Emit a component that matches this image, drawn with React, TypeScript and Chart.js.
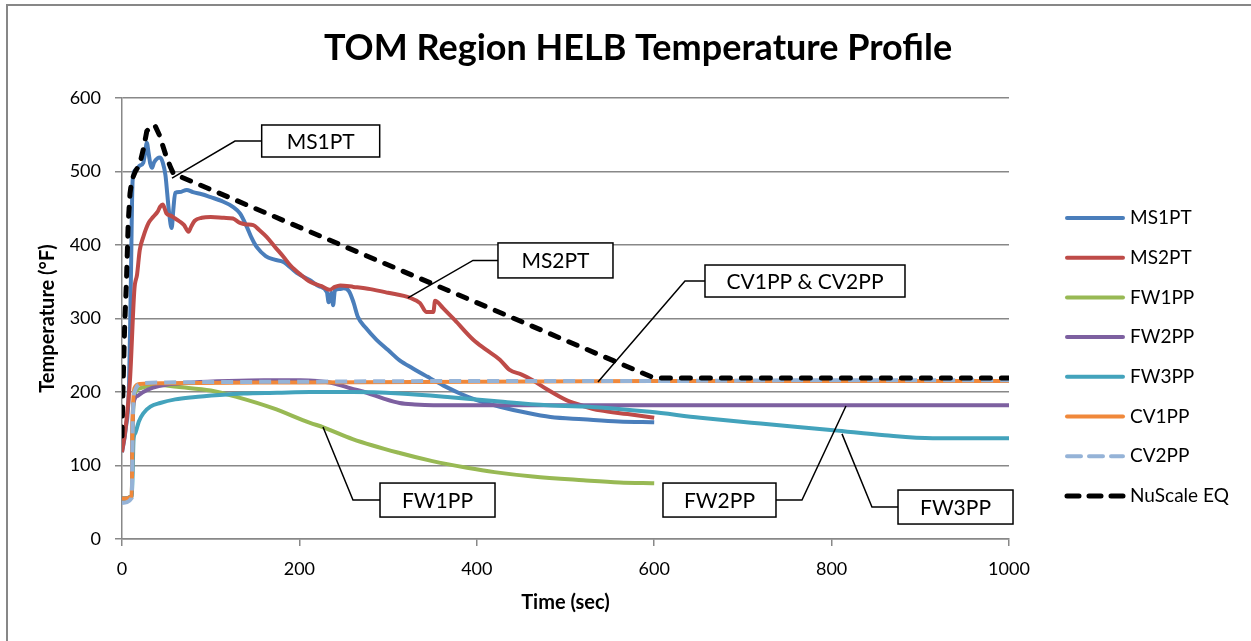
import { useEffect, useRef } from "react";
import { Chart, registerables } from "chart.js";

Chart.register(...registerables);

const FONT = "Lato, 'Open Sans', sans-serif";

// Time (sec) / temperature (°F) samples for each monitored point
const ms1ptTime = [0, 4, 8, 10, 12, 16, 20, 24, 26, 28, 30, 32, 34, 36, 40, 43, 46, 49, 51, 53, 56, 58, 60, 65, 73, 80, 90, 100, 112, 125, 133, 141, 146, 152, 162, 172, 182, 197, 212, 222, 231, 233, 236, 238, 240, 245, 250, 256, 261, 266, 275, 287, 300, 313, 328, 344, 362, 381, 400, 426, 455, 483, 520, 560, 600];
const ms1ptTemp = [118, 148, 212, 352, 488, 503, 508, 512, 525, 539, 525, 510, 505, 512, 518, 519, 512, 495, 470, 445, 423, 450, 471, 472, 475, 472, 469, 465, 460, 452, 443, 424, 410, 397, 385, 380, 377, 362, 352, 344, 336, 322, 335, 318, 338, 340, 341, 337, 322, 302, 287, 271, 257, 243, 232, 221, 209, 198, 189, 180, 172, 166, 163, 160, 159];

const ms2ptTime = [0, 4, 9, 14, 17, 20, 24, 30, 35, 40, 43, 46, 48, 50, 55, 60, 65, 70, 75, 78, 82, 90, 100, 115, 125, 133, 140, 148, 155, 163, 172, 182, 190, 201, 212, 225, 234, 240, 246, 261, 280, 300, 325, 336, 343, 351, 353, 356, 362, 375, 396, 410, 426, 437, 450, 463, 480, 501, 520, 539, 570, 600];
const ms2ptTemp = [118, 150, 216, 340, 360, 393, 411, 430, 438, 445, 452, 455, 450, 443, 440, 436, 432, 427, 418, 425, 433, 437, 438, 437, 436, 430, 428, 427, 420, 411, 398, 384, 372, 360, 350, 344, 339, 343, 345, 343, 340, 335, 328, 321, 309, 309, 324, 322, 314, 298, 271, 258, 244, 230, 224, 216, 203, 189, 181, 175, 170, 165];

const fw1ppTime = [0, 11, 12, 14, 20, 40, 62, 100, 130, 170, 212, 227, 260, 313, 350, 389, 420, 463, 520, 561, 600];
const fw1ppTemp = [55, 58, 150, 195, 205, 210, 207, 202, 193, 178, 158, 152, 136, 117, 106, 97, 91, 85, 80, 77, 76];

const fw2ppTime = [0, 11, 12, 13, 18, 24, 35, 50, 80, 120, 160, 201, 220, 238, 258, 276, 295, 313, 330, 351, 400, 600, 1000];
const fw2ppTemp = [55, 58, 160, 185, 195, 200, 206, 210, 213, 215, 216, 216, 215, 212, 205, 199, 191, 185, 183, 182, 182, 182, 182];

const fw3ppTime = [0, 11, 12, 13, 15, 19, 24, 32, 43, 60, 80, 110, 137, 175, 212, 260, 313, 370, 426, 480, 539, 595, 652, 720, 802, 860, 914, 1000];
const fw3ppTemp = [55, 58, 90, 135, 144, 160, 171, 180, 185, 190, 193, 196, 198, 199, 200, 200, 198, 193, 187, 182, 179, 173, 165, 157, 148, 141, 137, 137];

const cv1ppTime = [0, 11, 12, 14, 20, 50, 200, 400, 600, 800, 1000];
const cv1ppTemp = [55, 58, 160, 205, 211, 212, 213, 214, 215, 215, 215];

const cv2ppTime = [0, 11, 12, 14, 24, 50, 200, 400, 600, 800, 1000];
const cv2ppTemp = [49, 56, 150, 200, 212, 213, 214, 215, 215, 216, 216];

const nuscaleTime = [0, 1, 3, 5, 7, 9, 11, 15, 20, 24, 28, 33, 37, 42, 50, 55, 58, 600, 1000];
const nuscaleTemp = [140, 200, 290, 350, 430, 470, 488, 500, 510, 530, 555, 562, 563, 550, 520, 505, 497, 219, 219];

const seriesNames = ["MS1PT", "MS2PT", "FW1PP", "FW2PP", "FW3PP", "CV1PP", "CV2PP", "NuScale EQ"];
const seriesTimes = [ms1ptTime, ms2ptTime, fw1ppTime, fw2ppTime, fw3ppTime, cv1ppTime, cv2ppTime, nuscaleTime];
const seriesTemps = [ms1ptTemp, ms2ptTemp, fw1ppTemp, fw2ppTemp, fw3ppTemp, cv1ppTemp, cv2ppTemp, nuscaleTemp];

const seriesColors = ["#4A7EBB", "#BE4B48", "#98B954", "#7D60A0", "#43A3BC", "#F0883A", "#95B3D7", "#000000"];
const seriesDashes: number[][] = [[], [], [], [], [], [], [12, 7], [9, 11]];
const seriesWidths = [4, 4, 4, 4, 4, 4, 4, 5];

const xTicks = [0, 200, 400, 600, 800, 1000];

// Callout labels: box centre, elbow and target in data units (sec, °F)
const callouts = [
  { text: "MS1PT", at: [224, 541.5], w: 118, h: 32, elbow: 127.4, target: [56.4, 491] },
  { text: "MS2PT", at: [488.7, 379], w: 115, h: 35, elbow: 395.7, target: [322.4, 328] },
  { text: "CV1PP & CV2PP", at: [770, 351], w: 200, h: 32, elbow: 634.7, target: [536.6, 213.6] },
  { text: "FW1PP", at: [355.7, 53], w: 115, h: 34, elbow: 260.4, target: [226.6, 152.4] },
  { text: "FW2PP", at: [673.6, 53], w: 113, h: 34, elbow: 766.6, target: [816.2, 181] },
  { text: "FW3PP", at: [939.7, 43.5], w: 115, h: 34, elbow: 845.5, target: [811.7, 143] },
];

const framePlugin = {
  id: "frame",
  beforeDraw(chart: any) {
    const { ctx, width, height } = chart;
    ctx.save();
    ctx.fillStyle = "#ffffff";
    ctx.fillRect(0, 0, width, height);
    ctx.fillStyle = "#878787";
    ctx.fillRect(6, 4, width - 6, 2);
    ctx.fillRect(6, 4, 2, height - 4);
    ctx.fillStyle = "#000";
    ctx.font = `bold 36px ${FONT}`;
    ctx.textAlign = "center";
    ctx.textBaseline = "middle";
    ctx.fillText("TOM Region HELB Temperature Profile", 638, 48);
    ctx.restore();
  },
};

const calloutPlugin = {
  id: "callouts",
  afterDatasetsDraw(chart: any) {
    const { ctx } = chart;
    const xs = chart.scales.x;
    const ys = chart.scales.y;
    ctx.save();
    ctx.strokeStyle = "#000";
    ctx.lineWidth = 1.5;
    for (const c of callouts) {
      const cx = xs.getPixelForValue(c.at[0]);
      const cy = ys.getPixelForValue(c.at[1]);
      const ex = xs.getPixelForValue(c.elbow);
      const tx = xs.getPixelForValue(c.target[0]);
      const ty = ys.getPixelForValue(c.target[1]);
      const sideX = ex < cx ? cx - c.w / 2 : cx + c.w / 2;
      ctx.beginPath();
      ctx.moveTo(sideX, cy);
      ctx.lineTo(ex, cy);
      ctx.lineTo(tx, ty);
      ctx.stroke();
      ctx.fillStyle = "#fff";
      ctx.fillRect(cx - c.w / 2, cy - c.h / 2, c.w, c.h);
      ctx.strokeRect(cx - c.w / 2, cy - c.h / 2, c.w, c.h);
      ctx.fillStyle = "#000";
      ctx.font = `21px ${FONT}`;
      ctx.textAlign = "center";
      ctx.textBaseline = "middle";
      ctx.fillText(c.text, cx, cy + 1);
    }
    ctx.restore();
  },
};

const legendPlugin = {
  id: "sideLegend",
  afterDraw(chart: any) {
    const { ctx } = chart;
    const x0 = 1065;
    const len = 60;
    ctx.save();
    chart.data.datasets.forEach((ds: any, i: number) => {
      const y = 218 + i * 39.7;
      ctx.strokeStyle = ds.borderColor;
      ctx.lineWidth = ds.borderWidth;
      ctx.lineCap = "round";
      ctx.setLineDash(ds.borderDash && ds.borderDash.length ? (i === 7 ? [12, 10] : [14, 8]) : []);
      ctx.beginPath();
      ctx.moveTo(x0 + 2, y);
      ctx.lineTo(x0 + len - 2, y);
      ctx.stroke();
      ctx.setLineDash([]);
      ctx.fillStyle = "#000";
      ctx.font = `19px ${FONT}`;
      ctx.textAlign = "left";
      ctx.textBaseline = "middle";
      ctx.fillText(ds.label, x0 + len + 5, y);
    });
    ctx.restore();
  },
};

export default function App() {
  const canvasRef = useRef<HTMLCanvasElement | null>(null);

  useEffect(() => {
    if (!canvasRef.current) return;
    const n = seriesNames.length;
    const datasets = seriesNames.map((name, i) => ({
      label: name,
      data: seriesTimes[i].map((t, k) => ({ x: t, y: seriesTemps[i][k] })),
      borderColor: seriesColors[i],
      backgroundColor: seriesColors[i],
      borderWidth: seriesWidths[i],
      borderDash: seriesDashes[i],
      borderCapStyle: i === 7 ? "round" : "butt",
      borderJoinStyle: "round",
      pointRadius: 0,
      fill: false,
      cubicInterpolationMode: i === 7 ? "default" : "monotone",
      tension: i === 7 ? 0 : 0.4,
      order: n - i,
    }));

    const chart = new Chart(canvasRef.current, {
      type: "line",
      data: { datasets } as any,
      options: {
        animation: false,
        responsive: false,
        layout: { padding: { left: 0, right: 242, top: 98, bottom: 0 } },
        plugins: {
          legend: { display: false },
          title: { display: false },
          tooltip: { enabled: false },
        },
        scales: {
          x: {
            type: "linear",
            min: 0,
            max: 1000,
            afterBuildTicks: (s: any) => {
              s.ticks = xTicks.map((v) => ({ value: v }));
            },
            afterFit: (s: any) => {
              s.height = 102;
            },
            grid: { drawOnChartArea: false, drawTicks: true, tickLength: 7, color: "#888", lineWidth: 1.5 },
            border: { display: true, color: "#888", width: 1.5 },
            ticks: {
              color: "#000",
              font: { family: FONT, size: 18 },
              padding: 12,
              maxRotation: 0,
              callback: (v: any) => String(v),
            },
            title: {
              display: true,
              text: "Time (sec)",
              color: "#000",
              font: { family: FONT, size: 20, weight: "bold" },
              padding: { top: 0, bottom: 26 },
            },
          },
          y: {
            min: 0,
            max: 600,
            afterFit: (s: any) => {
              s.width = 122;
            },
            grid: { drawTicks: true, tickLength: 7, color: "#888", lineWidth: 1.5 },
            border: { display: true, color: "#888", width: 1.5 },
            ticks: { stepSize: 100, color: "#000", font: { family: FONT, size: 18 }, padding: 14 },
            title: {
              display: true,
              text: "Temperature (°F)",
              color: "#000",
              font: { family: FONT, size: 20, weight: "bold" },
              padding: { top: 36, bottom: 0 },
            },
          },
        },
      } as any,
      plugins: [framePlugin, calloutPlugin, legendPlugin],
    });
    return () => chart.destroy();
  }, []);

  return (
    <div style={{ position: "fixed", left: 0, top: 0, width: 1251, height: 641, background: "#fff" }}>
      <canvas ref={canvasRef} width={1251} height={641} style={{ width: 1251, height: 641, display: "block" }} />
    </div>
  );
}
